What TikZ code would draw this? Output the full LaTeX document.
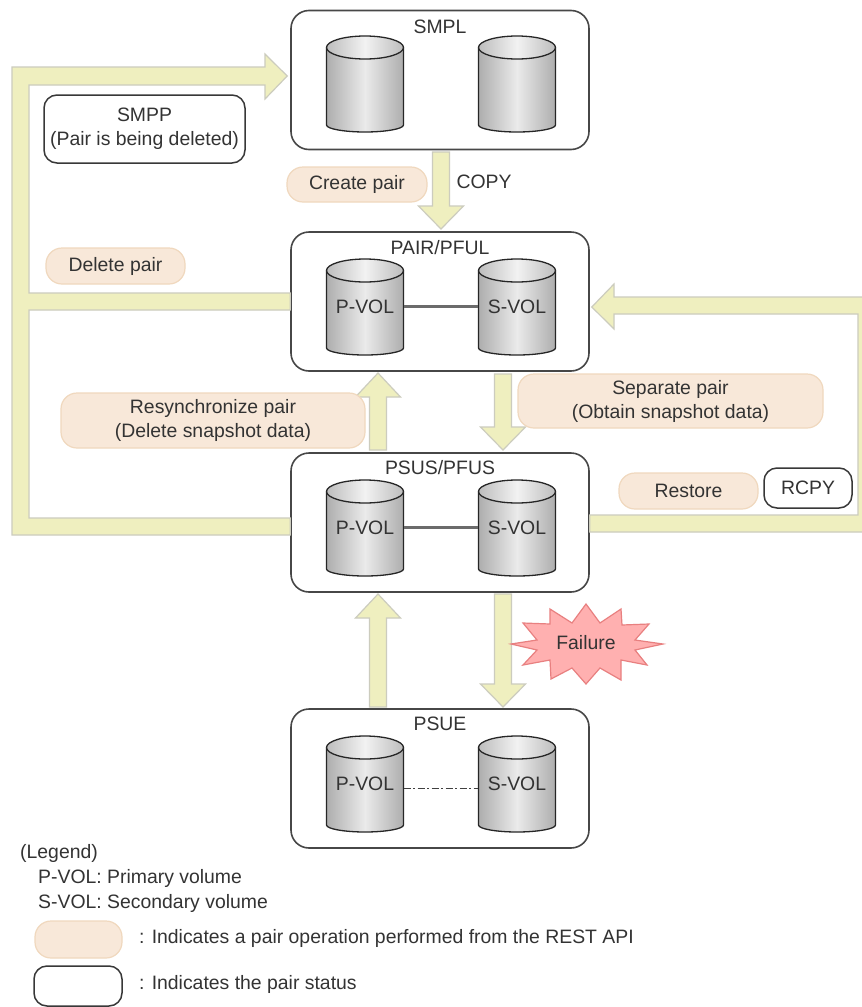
\documentclass[tikz,border=0pt]{standalone}
\usepackage{fontspec}
\setmainfont{Liberation Sans}
\usetikzlibrary{calc}
\definecolor{txt}{HTML}{333333}
\definecolor{arrowfill}{HTML}{EFEFBF}
\definecolor{arrowedge}{HTML}{CCCCBE}
\definecolor{pillfill}{HTML}{F8E8D9}
\definecolor{pilledge}{HTML}{F0D8BE}
\definecolor{starfill}{HTML}{FFB0B0}
\definecolor{staredge}{HTML}{E88080}
\tikzset{
  lbl/.style={text=txt,font=\fontsize{19.4}{24}\selectfont,inner sep=0pt,align=center},
  lbll/.style={lbl,anchor=west,align=left},
  statebox/.style={draw=black!72,line width=1.6pt,fill=white,rounded corners=18pt,minimum width=298pt,minimum height=139pt,inner sep=0pt},
  pill/.style={lbl,draw=pilledge,line width=1.2pt,fill=pillfill,rounded corners=16pt},
  status/.style={lbl,draw=black!78,line width=1.5pt,fill=white,rounded corners=13pt},
  blk/.style={draw=arrowedge,line width=1.2pt,fill=arrowfill,line join=miter},
  link/.style={draw=black!58,line width=2.3pt},
  cyledge/.style={draw=black!85,line width=1.3pt},
  cylbody/.style={left color=black!32,right color=black!32,middle color=black!8},
  cyltop/.style={left color=black!26,right color=black!26,middle color=black!5},
}
% \cyl{name}{x centre}{y top}{text}
\newcommand{\cyl}[4]{%
  \begin{scope}[shift={(#2,#3)}]
    \path[cylbody] (-38.5,11.5) -- (-38.5,89) .. controls (-38.5,93) and (-20,96) .. (0,96) .. controls (20,96) and (38.5,93) .. (38.5,89) -- (38.5,11.5) -- cycle;
    \draw[cyledge] (-38.5,11.5) -- (-38.5,89) .. controls (-38.5,93) and (-20,96) .. (0,96) .. controls (20,96) and (38.5,93) .. (38.5,89) -- (38.5,11.5);
    \path[cyltop] (0,11.5) ellipse [x radius=38.5,y radius=11.5];
    \draw[cyledge] (0,11.5) ellipse [x radius=38.5,y radius=11.5];
    \node[lbl,minimum width=77pt,minimum height=96pt] (#1) at (0,47.5) {#4};
  \end{scope}}
% \vblk{start}{tip}{+1 up on the page, -1 down}{head length}
\newcommand{\vblk}[4]{%
  \draw[blk] let \p1=(#1), \p2=(#2) in
    (\x2,\y2) -- (\x2-22.5pt,\y2-#3*#4 pt) -- (\x2-8.5pt,\y2-#3*#4 pt) -- (\x2-8.5pt,\y1)
    -- (\x2+8.5pt,\y1) -- (\x2+8.5pt,\y2-#3*#4 pt) -- (\x2+22.5pt,\y2-#3*#4 pt) -- cycle;}
\begin{document}
\begin{tikzpicture}[x=1pt,y=-1pt]
\useasboundingbox (0,0) rectangle (862,1007);
\fill[white] (0,0) rectangle (862,1007);

% state boxes
\node[statebox] (smpl) at (440,80) {};
\node[statebox] (pair) at (440,301.5) {};
\node[statebox] (psus) at (440,522.5) {};
\node[statebox] (psue) at (440,778.5) {};
\node[lbl] (smpllbl) at (440,27) {SMPL};
\node[lbl] (pairlbl) at (440,248) {PAIR/PFUL};
\node[lbl] (psuslbl) at (440,468) {PSUS/PFUS};
\node[lbl] (psuelbl) at (440,724) {PSUE};

% volumes
\cyl{a1}{365}{36}{}
\cyl{a2}{517}{36}{}
\cyl{b1}{365}{259}{P-VOL}
\cyl{b2}{517}{259}{S-VOL}
\cyl{c1}{365}{480}{P-VOL}
\cyl{c2}{517}{480}{S-VOL}
\cyl{d1}{365}{736}{P-VOL}
\cyl{d2}{517}{736}{S-VOL}
\draw[link] (b1.east) -- (b2.west);
\draw[link] (c1.east) -- (c2.west);
\draw[draw=black!75,line width=1.6pt,dash pattern=on 7pt off 2.5pt on 2pt off 2.5pt] ([yshift=-5pt]d1.east) -- ([yshift=-5pt]d2.west);

% block arrows
\draw[blk] (smpl.west |- 0,76) ++(-3,0) -- (265,54) -- (265,67) -- (12,67) -- (12,535)
  -- (psus.west |- 0,535) -- (psus.west |- 0,518) -- (29,518) -- (29,310)
  -- (pair.west |- 0,310) -- (pair.west |- 0,293) -- (29,293) -- (29,85) -- (265,85) -- (265,99) -- cycle;
\begin{scope}
  \clip (0,0) rectangle (862,1007);
  \draw[blk] (pair.east |- 0,307) ++(2,0) -- (614,284) -- (614,297) -- (875,297) -- (875,532)
    -- (psus.east |- 0,532) -- (psus.east |- 0,515) -- (858,515) -- (858,314) -- (614,314) -- (614,329) -- cycle;
\end{scope}
\coordinate (s1) at (441,152);  \coordinate (t1) at (441,229);
\coordinate (s2) at (503,374);  \coordinate (t2) at (503,450);
\coordinate (s3) at (378,450);  \coordinate (t3) at (378,373);
\coordinate (s4) at (503,594);  \coordinate (t4) at (503,707);
\coordinate (s5) at (378,707);  \coordinate (t5) at (378,594);
\vblk{s1}{t1}{-1}{23}
\vblk{s2}{t2}{-1}{23}
\vblk{s3}{t3}{1}{24}
\vblk{s4}{t4}{-1}{23}
\vblk{s5}{t5}{1}{24}

% operations
\node[pill,minimum width=140pt,minimum height=35pt] (create) at (357,184.5) {Create pair};
\node[pill,minimum width=139pt,minimum height=36pt] (delete) at (115.5,266) {Delete pair};
\node[pill,minimum width=304pt,minimum height=55pt] (resync) at (213,420.5) {Resynchronize pair\\(Delete snapshot data)};
\node[pill,minimum width=305pt,minimum height=54pt] (separate) at (670.5,401) {Separate pair\\(Obtain snapshot data)};
\node[pill,minimum width=139pt,minimum height=36pt] (restore) at (688.5,491) {Restore};

% statuses
\node[status,minimum width=201pt,minimum height=68pt] (smpp) at (144.5,129) {SMPP\\(Pair is being deleted)};
\node[status,minimum width=88pt,minimum height=40pt] (rcpy) at (808,488) {RCPY};
\node[lbl] (copy) at (484,182) {COPY};

% failure burst
\draw[draw=staredge,line width=1.2pt,fill=starfill,line join=miter]
  (511,644) -- (537,640) -- (523,623) -- (550,624) -- (550,609) -- (572,623) -- (586,604)
  -- (600,623) -- (621,609) -- (622,625) -- (649,624) -- (635,640) -- (663,644) -- (635,650)
  -- (647,665) -- (621,660) -- (621,680) -- (600,668) -- (586,684) -- (572,668) -- (551,679)
  -- (550,660) -- (523,665) -- (537,650) -- cycle;
\node[lbl] (failure) at (586,643) {Failure};

% legend
\node[lbll] (leg0) at (20,853) {(Legend)};
\node[lbll] (leg1) at (38,878) {P-VOL: Primary volume};
\node[lbll] (leg2) at (38,903) {S-VOL: Secondary volume};
\node[pill,minimum width=87pt,minimum height=37pt] (legpill) at (78.5,939.5) {};
\node[status,minimum width=88pt,minimum height=40pt] (legstat) at (78,986) {};
\node[lbll] (leg3) at (139,938) {: Indicates a pair operation performed from the REST API};
\node[lbll] (leg4) at (139,984) {: Indicates the pair status};
\end{tikzpicture}
\end{document}
